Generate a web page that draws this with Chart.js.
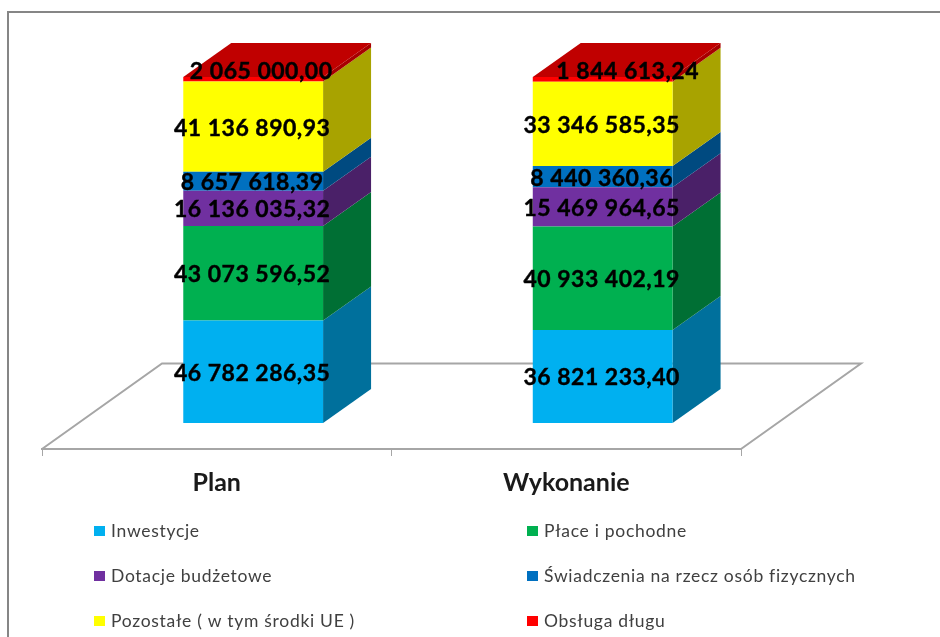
<!DOCTYPE html>
<html lang="pl">
<head>
<meta charset="utf-8">
<title>Plan i wykonanie</title>
<script src="https://cdn.jsdelivr.net/npm/chart.js@4"></script>
<style>
html,body{margin:0;padding:0;background:#fff;overflow:hidden}
#wrap{position:relative;width:940px;height:637px}
canvas{display:block}
</style>
</head>
<body>
<div id="wrap"><canvas id="c" width="940" height="637"></canvas></div>
<script>
const categories = ['Plan', 'Wykonanie'];
const inwestycje = [46782286.35, 36821233.40];
const place = [43073596.52, 40933402.19];
const dotacje = [16136035.32, 15469964.65];
const swiadczenia = [8657618.39, 8440360.36];
const pozostale = [41136890.93, 33346585.35];
const obsluga = [2065000.00, 1844613.24];

const seriesNames = ['Inwestycje', 'Płace i pochodne', 'Dotacje budżetowe',
  'Świadczenia na rzecz osób fizycznych', 'Pozostałe ( w tym środki UE )', 'Obsługa długu'];
const seriesValues = [inwestycje, place, dotacje, swiadczenia, pozostale, obsluga];
const frontColors = ['#00B0F0', '#00B050', '#7030A0', '#0070C0', '#FFFF00', '#FF0000'];
const sideColors = ['#00709C', '#006F34', '#4A2068', '#004A80', '#A8A300', '#A80000'];
const topColor = '#C00000';

const totals = categories.map((_, i) => seriesValues.reduce((s, a) => s + a[i], 0));
const BAR_DEPTH = {x: 48, y: 34};
const FLOOR_DEPTH = {x: 120, y: 85.5};
const FONT = 'Lato, Carlito, Calibri, sans-serif';

function fmt(v) {
  const [a, b] = v.toFixed(2).split('.');
  return a.replace(/\B(?=(\d{3})+(?!\d))/g, ' ') + ',' + b;
}
function barShift(chart) {
  const y = chart.scales.y;
  return (y.bottom - y.getPixelForValue(0)) * FLOOR_DEPTH.x / FLOOR_DEPTH.y;
}
function poly(ctx, pts, fill) {
  ctx.beginPath();
  pts.forEach((p, i) => i ? ctx.lineTo(p[0], p[1]) : ctx.moveTo(p[0], p[1]));
  ctx.closePath();
  ctx.fillStyle = fill;
  ctx.fill();
}

const scene3d = {
  id: 'scene3d',
  beforeDraw(chart) {
    const {ctx} = chart, x = chart.scales.x, y = chart.scales.y;
    ctx.save();
    // frame
    ctx.strokeStyle = '#868686';
    ctx.lineWidth = 2;
    ctx.beginPath();
    ctx.moveTo(8, 637); ctx.lineTo(8, 12); ctx.lineTo(940, 12);
    ctx.stroke();
    // floor
    ctx.strokeStyle = '#a6a6a6';
    ctx.lineWidth = 2;
    ctx.beginPath();
    ctx.moveTo(x.left, y.bottom);
    ctx.lineTo(x.left + FLOOR_DEPTH.x, y.bottom - FLOOR_DEPTH.y);
    ctx.lineTo(x.right + FLOOR_DEPTH.x, y.bottom - FLOOR_DEPTH.y);
    ctx.lineTo(x.right, y.bottom);
    ctx.stroke();
    ctx.restore();
  },
  beforeDatasetsDraw(chart) {
    const {ctx} = chart;
    ctx.save();
    ctx.translate(barShift(chart), 0);
    const dx = BAR_DEPTH.x, dy = BAR_DEPTH.y;
    chart.data.datasets.forEach((ds, d) => {
      chart.getDatasetMeta(d).data.forEach(el => {
        const p = el.getProps(['x', 'y', 'base', 'width'], true);
        const r = p.x + p.width / 2, l = p.x - p.width / 2;
        poly(ctx, [[r, p.base], [r + dx, p.base - dy], [r + dx, p.y - dy], [r, p.y]], sideColors[d]);
        if (d === chart.data.datasets.length - 1) {
          poly(ctx, [[l, p.y], [l + dx, p.y - dy], [r + dx, p.y - dy], [r, p.y]], topColor);
        }
      });
    });
  },
  afterDatasetsDraw(chart) {
    chart.ctx.restore();
  },
  afterDraw(chart) {
    const {ctx} = chart, shift = barShift(chart), last = chart.data.datasets.length - 1;
    ctx.save();
    // value labels
    ctx.font = 'bold 23px ' + FONT;
    ctx.letterSpacing = '0.5px';
    ctx.fillStyle = '#000';
    ctx.strokeStyle = '#000';
    ctx.lineWidth = 0.4;
    ctx.textAlign = 'center';
    ctx.textBaseline = 'middle';
    const topNudge = [{x: 9, y: -9}, {x: 26, y: -9}];
    seriesValues.forEach((vals, d) => {
      chart.getDatasetMeta(d).data.forEach((el, i) => {
        const p = el.getProps(['x', 'y', 'base'], true);
        const n = d === last ? topNudge[i] : {x: 0, y: 0};
        const tx = p.x + shift - 1 + n.x, ty = (p.y + p.base) / 2 + 1.5 + n.y;
        ctx.fillText(fmt(vals[i]), tx, ty);
        ctx.strokeText(fmt(vals[i]), tx, ty);
      });
    });
    // legend
    const colX = [94, 527], rowY = [531, 576, 621];
    ctx.font = '17.5px ' + FONT;
    ctx.letterSpacing = '0.7px';
    ctx.textAlign = 'left';
    seriesNames.forEach((name, d) => {
      const cx = colX[d % 2], cy = rowY[Math.floor(d / 2)];
      ctx.fillStyle = frontColors[d];
      ctx.fillRect(cx, cy - 5, 11, 10);
      ctx.fillStyle = '#404040';
      ctx.fillText(name, cx + 17, cy);
    });
    ctx.restore();
  }
};

new Chart(document.getElementById('c'), {
  type: 'bar',
  data: {
    labels: categories,
    datasets: seriesNames.map((name, d) => ({
      label: name,
      data: seriesValues[d].map((v, i) => v / totals[i] * 100),
      backgroundColor: frontColors[d],
      borderWidth: 0,
      barPercentage: 0.4,
      categoryPercentage: 1,
      clip: false
    }))
  },
  options: {
    responsive: false,
    animation: false,
    layout: {padding: {left: 42, right: 199, top: 77, bottom: 127}},
    plugins: {legend: {display: false}, tooltip: {enabled: false}, title: {display: false}},
    scales: {
      x: {
        stacked: true,
        grid: {drawOnChartArea: false, drawTicks: true, tickLength: 7, tickColor: '#a6a6a6', lineWidth: 1},
        border: {color: '#a6a6a6', width: 2},
        ticks: {color: '#1a1a1a', font: {family: FONT, size: 25, weight: 'bold'}, padding: 12, maxRotation: 0}
      },
      y: {
        stacked: true,
        display: false,
        min: -7.5,
        max: 100
      }
    }
  },
  plugins: [scene3d]
});
</script>
</body>
</html>
